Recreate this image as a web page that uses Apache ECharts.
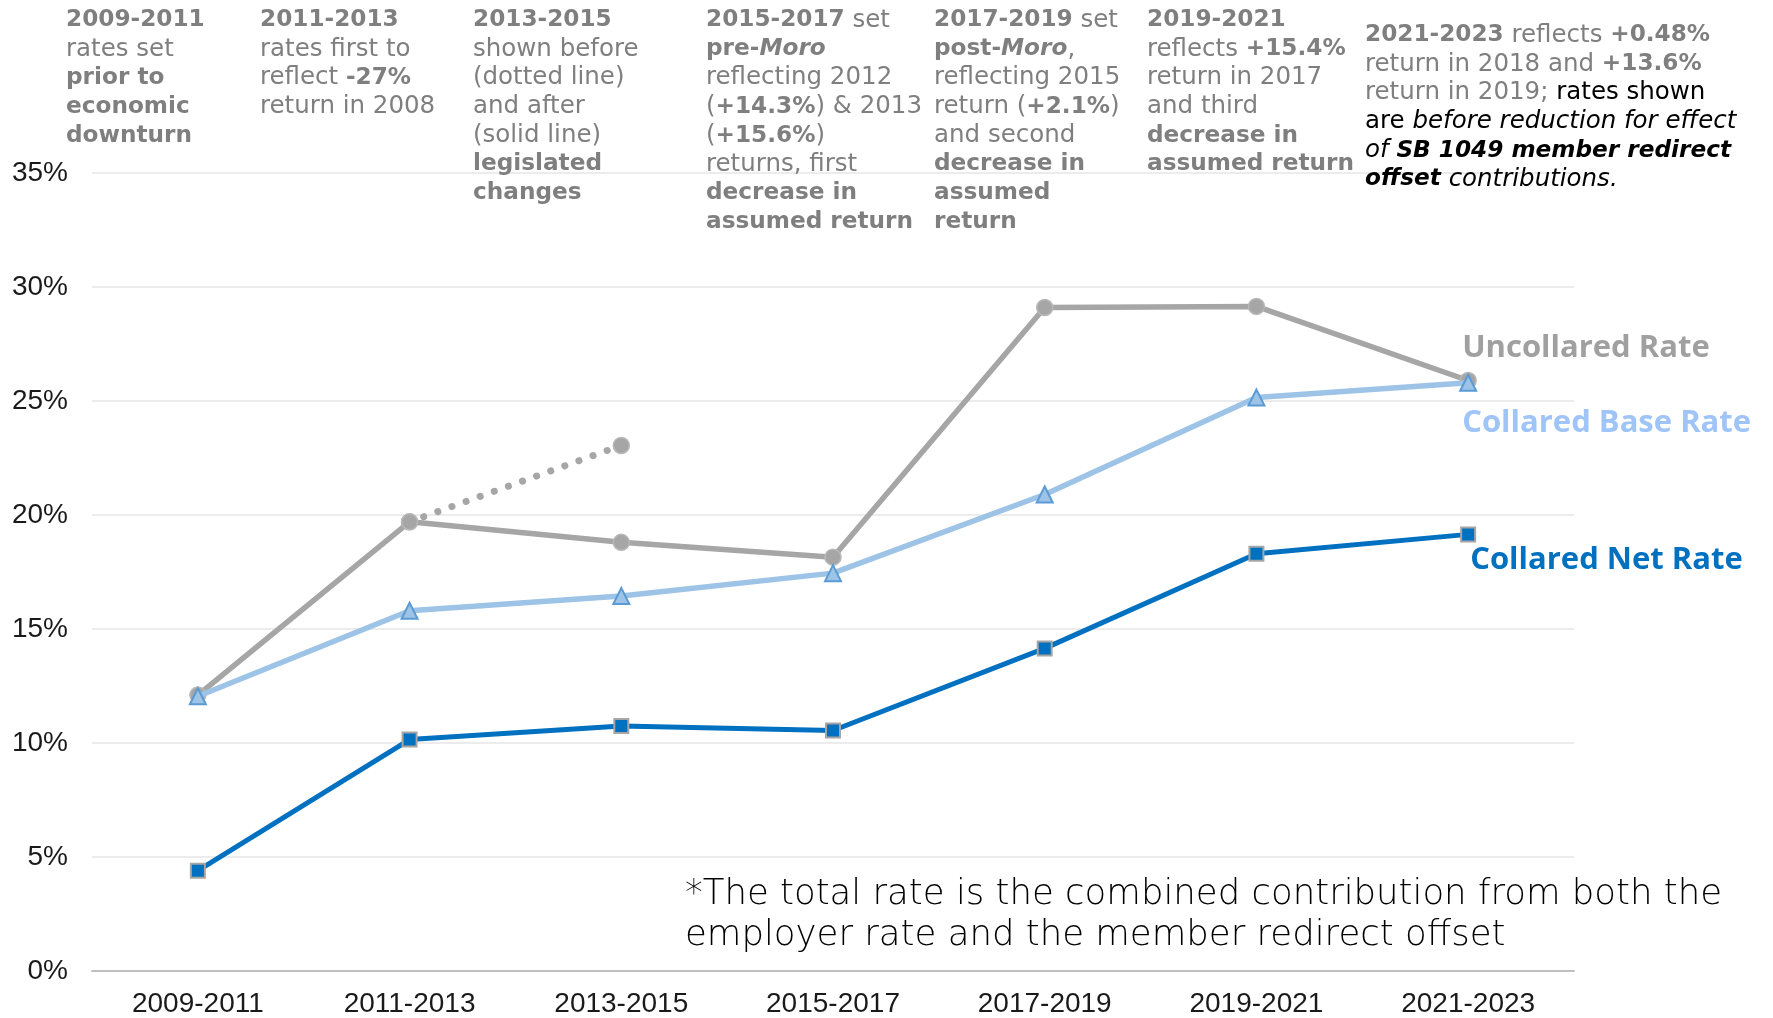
<!DOCTYPE html>
<html>
<head>
<meta charset="utf-8">
<script src="https://cdn.jsdelivr.net/npm/echarts@6/dist/echarts.min.js"></script>
<style>
  html, body { margin: 0; padding: 0; background: #ffffff; }
  #chart { width: 1773px; height: 1018px; }
</style>
</head>
<body>
<div id="chart"></div>
<script>
// Valuation periods on the x axis
const periods = ['2009-2011', '2011-2013', '2013-2015', '2015-2017', '2017-2019', '2019-2021', '2021-2023'];

// Contribution rates, percent of payroll
const uncollaredRate = [12.1, 19.7, 18.8, 18.15, 29.1, 29.15, 25.9];
const uncollaredBeforeChanges = [null, 19.7, 23.05, null, null, null, null];
const collaredBaseRate = [12.05, 15.8, 16.45, 17.45, 20.9, 25.15, 25.8];
const collaredNetRate = [4.4, 10.15, 10.75, 10.55, 14.15, 18.3, 19.15];

// Y axis range and step
const yMin = 0, yMax = 35, yStep = 5;

// Notes printed above each period: lines of [style, text] runs
const periodNotes = [
  [[['b', '2009-2011']], [['n', 'rates set']], [['b', 'prior to']], [['b', 'economic']], [['b', 'downturn']]],
  [[['b', '2011-2013']], [['n', 'rates first to']], [['n', 'reflect '], ['b', '-27%']], [['n', 'return in 2008']]],
  [[['b', '2013-2015']], [['n', 'shown before']], [['n', '(dotted line)']], [['n', 'and after']], [['n', '(solid line)']], [['b', 'legislated']], [['b', 'changes']]],
  [[['b', '2015-2017'], ['n', ' set']], [['b', 'pre-'], ['bi', 'Moro']], [['n', 'reflecting 2012']], [['n', '('], ['b', '+14.3%'], ['n', ') & 2013']], [['n', '('], ['b', '+15.6%'], ['n', ')']], [['n', 'returns, first']], [['b', 'decrease in']], [['b', 'assumed return']]],
  [[['b', '2017-2019'], ['n', ' set']], [['b', 'post-'], ['bi', 'Moro'], ['n', ',']], [['n', 'reflecting 2015']], [['n', 'return ('], ['b', '+2.1%'], ['n', ')']], [['n', 'and second']], [['b', 'decrease in']], [['b', 'assumed']], [['b', 'return']]],
  [[['b', '2019-2021']], [['n', 'reflects '], ['b', '+15.4%']], [['n', 'return in 2017']], [['n', 'and third']], [['b', 'decrease in']], [['b', 'assumed return']]],
  [[['b', '2021-2023'], ['n', ' reflects '], ['b', '+0.48%']], [['n', 'return in 2018 and '], ['b', '+13.6%']], [['n', 'return in 2019; '], ['k', 'rates shown']], [['k', 'are '], ['ki', 'before reduction for effect']], [['ki', 'of '], ['kbi', 'SB 1049 member redirect']], [['kbi', 'offset'], ['ki', ' contributions.']]]
];
const noteLeft = [66, 260, 473, 706, 934, 1147, 1365];
const noteTop = [6, 6, 6, 6, 6, 6, 21];

const footnoteLines = [
  '*The total rate is the combined contribution from both the',
  'employer rate and the member redirect offset'
];

const GREY = '#a6a6a6';
const LIGHT_BLUE = '#9dc3e6';
const MID_BLUE = '#5b9bd5';
const DARK_BLUE = '#0070c0';
const NOTE_GREY = '#7f7f7f';

const noteFont = '"DejaVu Sans", sans-serif';
const noteSize = 24.5;
const noteBoldSize = 23.2;
const noteLH = 28.8;
function noteStyle(fill, weight, style, size) {
  return { fontFamily: noteFont, fontSize: size, lineHeight: noteLH, fill: fill, fontWeight: weight, fontStyle: style };
}
const noteRich = {
  n: noteStyle(NOTE_GREY, 'normal', 'normal', noteSize),
  b: noteStyle(NOTE_GREY, 'bold', 'normal', noteBoldSize),
  bi: noteStyle(NOTE_GREY, 'bold', 'italic', noteBoldSize),
  k: noteStyle('#000000', 'normal', 'normal', noteSize),
  ki: noteStyle('#000000', 'normal', 'italic', noteSize),
  kbi: noteStyle('#000000', 'bold', 'italic', noteBoldSize)
};

function richText(lines) {
  return lines.map(line => line.map(([s, t]) => '{' + s + '|' + t + '}').join('')).join('\n');
}

const noteGraphics = periodNotes.map((lines, i) => ({
  type: 'text',
  left: noteLeft[i],
  top: noteTop[i],
  z: 10,
  style: {
    text: richText(lines),
    rich: noteRich,
    fontFamily: noteFont,
    fontSize: noteSize,
    lineHeight: noteLH
  }
}));

const footnoteGraphic = {
  type: 'text',
  left: 685,
  top: 875,
  z: 10,
  style: {
    text: footnoteLines.join('\n'),
    fontFamily: '"DejaVu Sans", sans-serif',
    fontWeight: 200,
    fontSize: 35.5,
    lineHeight: 40.5,
    fill: '#000000'
  }
};

const chart = echarts.init(document.getElementById('chart'), null, { renderer: 'canvas' });

const endLabelBase = {
  show: true,
  fontFamily: '"Open Sans", sans-serif',
  fontWeight: 'bold',
  fontSize: 31,
  distance: 0
};

chart.setOption({
  animation: false,
  backgroundColor: '#ffffff',
  grid: { left: 92, right: 199, top: 173, bottom: 47, containLabel: false },
  xAxis: {
    type: 'category',
    data: periods,
    boundaryGap: true,
    axisLine: { show: true, lineStyle: { color: '#bfbfbf', width: 2 } },
    axisTick: { show: false },
    axisLabel: {
      margin: 19,
      color: '#1a1a1a',
      fontFamily: '"Liberation Sans", Arial, sans-serif',
      fontSize: 28
    },
    splitLine: { show: false }
  },
  yAxis: {
    type: 'value',
    min: yMin,
    max: yMax,
    interval: yStep,
    axisLine: { show: false },
    axisTick: { show: false },
    axisLabel: {
      formatter: '{value}%',
      margin: 24,
      color: '#1a1a1a',
      fontFamily: '"Liberation Sans", Arial, sans-serif',
      fontSize: 28
    },
    splitLine: { show: true, lineStyle: { color: '#e6e6e6', width: 1.5 } }
  },
  graphic: noteGraphics.concat([footnoteGraphic]),
  series: [
    {
      name: 'Uncollared Rate (before legislated changes)',
      type: 'line',
      data: uncollaredBeforeChanges,
      connectNulls: false,
      symbol: 'circle',
      symbolSize: 16,
      showSymbol: true,
      itemStyle: { color: GREY, borderColor: '#b8b8b8', borderWidth: 1.5 },
      lineStyle: { color: GREY, width: 7, type: [0.1, 14.9], cap: 'round' },
      z: 2
    },
    {
      name: 'Uncollared Rate',
      type: 'line',
      data: uncollaredRate,
      symbol: 'circle',
      symbolSize: 16,
      itemStyle: { color: GREY, borderColor: '#b8b8b8', borderWidth: 1.5 },
      lineStyle: { color: GREY, width: 5.5 },
      endLabel: Object.assign({}, endLabelBase, {
        formatter: 'Uncollared Rate',
        color: '#a0a0a0',
        offset: [-6, -32]
      }),
      z: 3
    },
    {
      name: 'Collared Base Rate',
      type: 'line',
      data: collaredBaseRate,
      symbol: 'triangle',
      symbolSize: 16,
      itemStyle: { color: LIGHT_BLUE, borderColor: MID_BLUE, borderWidth: 2 },
      lineStyle: { color: LIGHT_BLUE, width: 5.5 },
      endLabel: Object.assign({}, endLabelBase, {
        formatter: 'Collared Base Rate',
        color: '#9fc4f8',
        offset: [-6, 40]
      }),
      z: 4
    },
    {
      name: 'Collared Net Rate',
      type: 'line',
      data: collaredNetRate,
      symbol: 'rect',
      symbolSize: 14,
      itemStyle: { color: DARK_BLUE, borderColor: GREY, borderWidth: 2 },
      lineStyle: { color: DARK_BLUE, width: 5 },
      endLabel: Object.assign({}, endLabelBase, {
        formatter: 'Collared Net Rate',
        color: DARK_BLUE,
        offset: [2, 26]
      }),
      z: 5
    }
  ]
});
</script>
</body>
</html>
